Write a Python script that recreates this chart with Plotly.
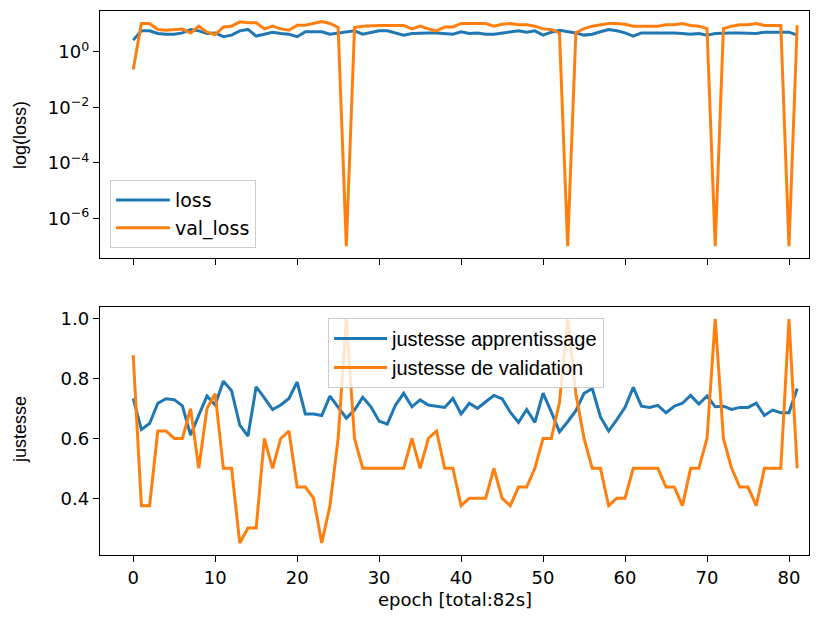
import plotly.graph_objects as go

epochs = list(range(82))

loss = [2.64, 5.7, 5.7, 4.6, 4.3, 4.3, 4.8, 6.4, 5.7, 4.6,
        4.8, 3.5, 4.0, 5.7, 6.4, 3.7, 4.3, 5.1, 4.6, 4.3,
        3.5, 5.3, 5.3, 5.3, 4.3, 4.8, 5.3, 5.7, 4.3, 5.1,
        5.7, 5.7, 4.8, 4.0, 4.6, 4.8, 4.8, 4.8, 4.6, 4.3,
        5.3, 4.6, 4.8, 4.3, 4.3, 4.8, 5.4, 5.7, 5.1, 5.7,
        4.0, 5.1, 6.0, 5.4, 4.8, 4.0, 4.3, 5.3, 6.4, 5.7,
        4.8, 3.7, 4.8, 4.8, 4.8, 5.1, 4.8, 4.6, 4.3, 4.6,
        4.0, 4.6, 4.8, 4.8, 4.8, 4.6, 4.6, 5.1, 5.1, 5.1,
        5.1, 4.0]

val_loss = [0.23, 10.5, 10.5, 6.4, 6.0, 6.4, 6.6, 4.8, 8.4, 5.1,
            4.2, 7.9, 8.4, 12.0, 11.1, 11.1, 6.7, 8.4, 6.7, 6.0,
            9.1, 9.1, 10.5, 12.4, 10.5, 7.5, 1e-7, 7.5, 8.4, 8.9,
            8.9, 8.9, 8.9, 8.9, 6.7, 8.4, 6.7, 5.7, 7.9, 7.9,
            10.5, 10.5, 10.5, 10.5, 8.4, 9.9, 10.5, 9.4, 9.4, 8.4,
            6.7, 6.4, 4.8, 1e-7, 4.8, 6.9, 8.4, 9.4, 10.5, 10.5,
            9.9, 8.4, 8.4, 8.4, 8.4, 9.4, 9.4, 10.5, 8.9, 8.4,
            6.9, 1e-7, 6.9, 8.4, 9.4, 9.4, 10.5, 8.9, 8.9, 8.9,
            1e-7, 9.1]

acc = [0.734, 0.630, 0.650, 0.718, 0.733, 0.730, 0.709, 0.611, 0.678, 0.742,
       0.712, 0.792, 0.760, 0.645, 0.608, 0.773, 0.736, 0.697, 0.712, 0.734,
       0.789, 0.682, 0.682, 0.677, 0.742, 0.706, 0.668, 0.695, 0.738, 0.706,
       0.658, 0.648, 0.712, 0.751, 0.706, 0.729, 0.712, 0.708, 0.704, 0.734,
       0.682, 0.718, 0.701, 0.723, 0.744, 0.733, 0.688, 0.654, 0.697, 0.654,
       0.752, 0.689, 0.622, 0.656, 0.693, 0.751, 0.767, 0.672, 0.625, 0.663,
       0.704, 0.771, 0.708, 0.704, 0.711, 0.686, 0.708, 0.718, 0.744, 0.715,
       0.742, 0.706, 0.708, 0.697, 0.704, 0.704, 0.718, 0.677, 0.695, 0.686,
       0.686, 0.767]

val_acc = [0.879, 0.375, 0.375, 0.625, 0.625, 0.6, 0.6, 0.7, 0.5, 0.7,
           0.75, 0.5, 0.5, 0.25, 0.3, 0.3, 0.6, 0.5, 0.6, 0.625,
           0.4375, 0.4375, 0.4, 0.25, 0.375, 0.6, 1.0, 0.6, 0.5, 0.5,
           0.5, 0.5, 0.5, 0.5, 0.6, 0.5, 0.6, 0.625, 0.5, 0.5,
           0.375, 0.4, 0.4, 0.4, 0.5, 0.4, 0.375, 0.4375, 0.4375, 0.5,
           0.6, 0.6, 0.72, 1.0, 0.75, 0.6, 0.5, 0.5, 0.375, 0.4,
           0.4, 0.5, 0.5, 0.5, 0.5, 0.4375, 0.4375, 0.375, 0.5, 0.5,
           0.6, 1.0, 0.6, 0.5, 0.4375, 0.4375, 0.375, 0.5, 0.5, 0.5,
           1.0, 0.5]

x_ticks = [0, 10, 20, 30, 40, 50, 60, 70, 80]
log_tickvals = [1, 1e-2, 1e-4, 1e-6]
log_ticktext = ["10<sup>0</sup>", "10<sup>−2</sup>", "10<sup>−4</sup>", "10<sup>−6</sup>"]
acc_tickvals = [0.4, 0.6, 0.8, 1.0]
acc_ticktext = ["0.4", "0.6", "0.8", "1.0"]

BLUE = "#1f77b4"
ORANGE = "#ff7f0e"
LW = 3

fig = go.Figure()
fig.add_trace(go.Scatter(x=epochs, y=loss, mode="lines", name="loss",
                         line=dict(color=BLUE, width=LW), xaxis="x", yaxis="y", legend="legend"))
fig.add_trace(go.Scatter(x=epochs, y=val_loss, mode="lines", name="val_loss",
                         line=dict(color=ORANGE, width=LW), xaxis="x", yaxis="y", legend="legend"))
fig.add_trace(go.Scatter(x=epochs, y=acc, mode="lines", name="justesse apprentissage",
                         line=dict(color=BLUE, width=LW), xaxis="x2", yaxis="y2", legend="legend2"))
fig.add_trace(go.Scatter(x=epochs, y=val_acc, mode="lines", name="justesse de validation",
                         line=dict(color=ORANGE, width=LW), xaxis="x2", yaxis="y2", legend="legend2"))

tickfont = dict(family="DejaVu Sans", size=18, color="black")
axis_common = dict(showline=True, mirror=True, linecolor="black", linewidth=1.3,
                   ticks="outside", ticklen=6, tickwidth=1.3, tickcolor="black",
                   showgrid=False, zeroline=False, tickfont=tickfont)

XR = [-4.05, 82.44]

fig.update_layout(
    width=824, height=619,
    margin=dict(l=92, r=23, t=3, b=72),
    paper_bgcolor="white", plot_bgcolor="white",
    xaxis=dict(domain=[0, 1], anchor="y", range=XR, tickvals=x_ticks,
               showticklabels=False, **axis_common),
    yaxis=dict(domain=[0.5465, 1], anchor="x", type="log", range=[-7.41, 1.47],
               tickvals=log_tickvals, ticktext=log_ticktext, **axis_common),
    xaxis2=dict(domain=[0, 1], anchor="y2", range=XR, tickvals=x_ticks,
                **axis_common),
    yaxis2=dict(domain=[0, 0.4564], anchor="x2", range=[0.210, 1.041],
                tickvals=acc_tickvals, ticktext=acc_ticktext, **axis_common),
    legend=dict(x=0.014, y=0.689, xanchor="left", yanchor="top",
                bgcolor="rgba(255,255,255,0.8)", bordercolor="#cccccc", borderwidth=1,
                font=dict(family="DejaVu Sans", size=19, color="black"),
                tracegroupgap=0, itemwidth=54),
    legend2=dict(x=0.3216, y=0.4357, xanchor="left", yanchor="top",
                 bgcolor="rgba(255,255,255,0.8)", bordercolor="#cccccc", borderwidth=1,
                 font=dict(family="Liberation Sans", size=20, color="black"),
                 tracegroupgap=0, itemwidth=53),
    showlegend=True,
    annotations=[
        dict(text="log(loss)", xref="paper", yref="paper", x=-0.1128, y=0.772,
             xanchor="center", yanchor="middle", textangle=-90, showarrow=False,
             font=dict(family="Liberation Sans", size=18, color="black")),
        dict(text="justesse", xref="paper", yref="paper", x=-0.1128, y=0.2298,
             xanchor="center", yanchor="middle", textangle=-90, showarrow=False,
             font=dict(family="Liberation Sans", size=18, color="black")),
        dict(text="epoch [total:82s]", xref="paper", yref="paper", x=0.5, y=-0.0827,
             xanchor="center", yanchor="middle", showarrow=False,
             font=dict(family="DejaVu Sans", size=18, color="black")),
    ],
)

fig.write_html("out.html")
